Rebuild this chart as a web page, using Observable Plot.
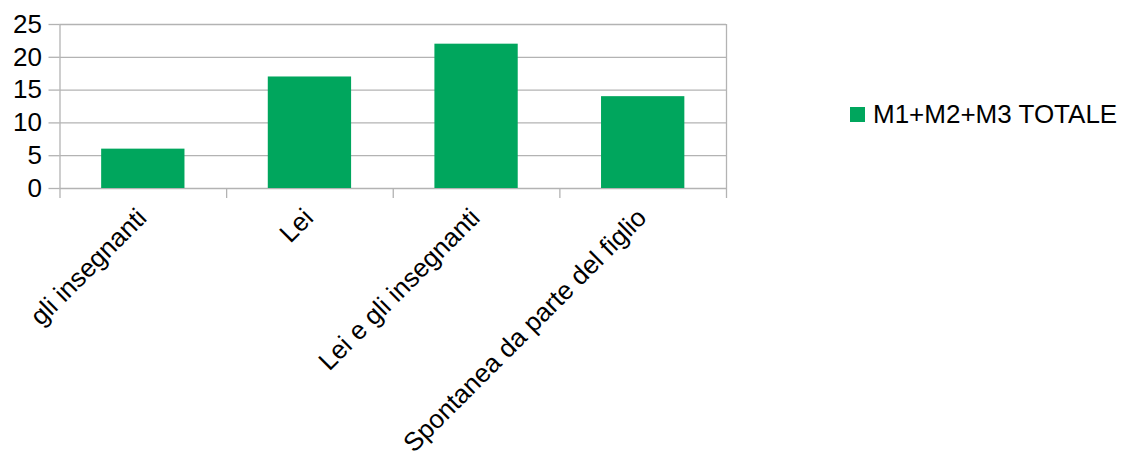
<!DOCTYPE html>
<html>
<head>
<meta charset="utf-8">
<script src="https://cdn.jsdelivr.net/npm/d3@7"></script>
<script src="https://cdn.jsdelivr.net/npm/@observablehq/plot@0.6"></script>
<style>
  body { margin: 0; background: #fff; font-family: "Liberation Sans", Arial, sans-serif; }
  #wrap { position: relative; width: 1126px; height: 454px; }
  #legend { position: absolute; left: 850px; top: 99px; display: flex; align-items: center; font-size: 26px; color: #000; white-space: nowrap; }
  #legend .sw { width: 15px; height: 15px; background: #00a65d; margin-right: 8px; }
</style>
</head>
<body>
<div id="wrap"><div id="legend"><div class="sw"></div><span id="legtext"></span></div></div>
<script>
const categories = ["gli insegnanti", "Lei", "Lei e gli insegnanti", "Spontanea da parte del figlio"];
const values = [6, 17, 22, 14];
const yTicks = [0, 5, 10, 15, 20, 25];
const seriesName = "M1+M2+M3 TOTALE";

const data = categories.map((c, i) => ({category: c, value: values[i]}));
const gray = "#b3b3b3";
const green = "#00a65d";
const marginLeft = 59.5, marginRight = 400, width = 1126;
const step = (width - marginLeft - marginRight) / categories.length;

const chart = Plot.plot({
  width,
  height: 454,
  marginLeft,
  marginRight,
  marginTop: 24,
  marginBottom: 266,
  style: {fontFamily: "Liberation Sans, Arial, sans-serif", fontSize: "26px", color: "#000", background: "#fff"},
  x: {domain: categories, paddingInner: 0.5, paddingOuter: 0.25, axis: null, round: false},
  y: {domain: [0, 25], axis: null},
  marks: [
    Plot.gridY(yTicks, {stroke: gray, strokeOpacity: 1, strokeWidth: 1.3}),
    Plot.axisY({ticks: yTicks, tickSize: 11, tickPadding: 7, stroke: gray, strokeOpacity: 1, strokeWidth: 1.3, fontSize: 26, fill: "#000", label: null}),
    Plot.ruleX([categories[0]], {x: d => d, dx: -step / 2, stroke: gray, strokeWidth: 1.3}),
    Plot.ruleX([categories[categories.length - 1]], {x: d => d, dx: step / 2, stroke: gray, strokeWidth: 1.3}),
    Plot.axisX({tickSize: 10, tickFormat: () => "", dx: -step / 2, stroke: gray, strokeOpacity: 1, strokeWidth: 1.3, label: null}),
    Plot.axisX({ticks: [categories[categories.length - 1]], tickSize: 10, tickFormat: () => "", dx: step / 2, stroke: gray, strokeOpacity: 1, strokeWidth: 1.3, label: null}),
    Plot.barY(data, {x: "category", y: "value", fill: green}),
    Plot.axisX({tickSize: 0, tickRotate: -45, tickPadding: 25, fontSize: 26, fill: "#000", dx: -1, label: null})
  ]
});
document.getElementById("wrap").prepend(chart);
document.getElementById("legtext").textContent = seriesName;
</script>
</body>
</html>
